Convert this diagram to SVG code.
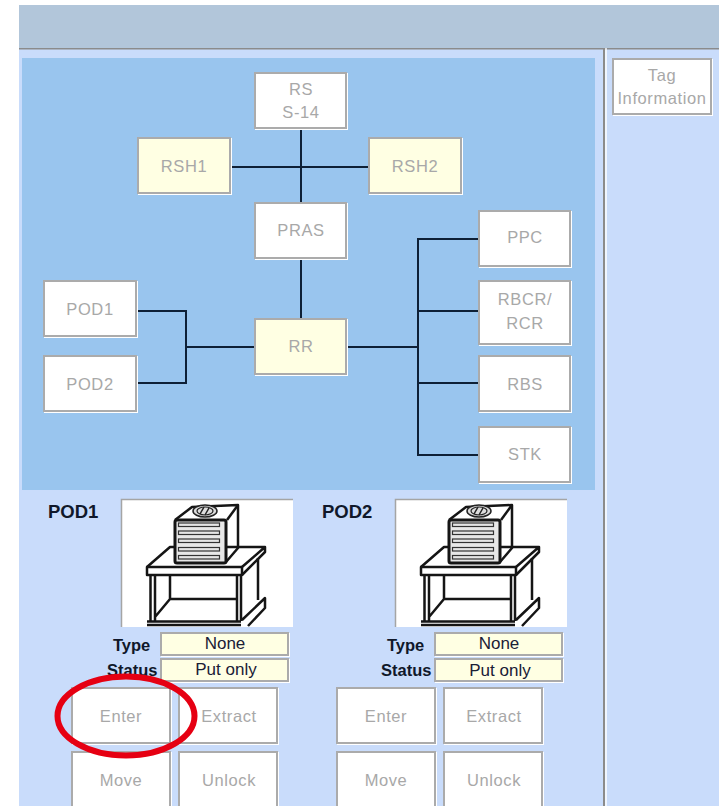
<svg xmlns="http://www.w3.org/2000/svg" width="724" height="806" viewBox="0 0 724 806">
<style>
.n{fill:#fff;stroke:#ababab;stroke-width:2;filter:drop-shadow(1px 1px 0 #fff)}
.y{fill:#ffffe3;stroke:#ababab;stroke-width:2;filter:drop-shadow(1px 1px 0 #fff)}
.t{font-family:"Liberation Sans",Arial,sans-serif;font-size:16.5px;letter-spacing:.6px;fill:#a8a8a8;text-anchor:middle}
.b{font-family:"Liberation Sans",Arial,sans-serif;font-weight:bold;font-size:16.5px;fill:#10182a}
.bb{font-family:"Liberation Sans",Arial,sans-serif;font-weight:bold;font-size:18.500px;fill:#10182a}
.v{font-family:"Liberation Sans",Arial,sans-serif;font-size:17px;fill:#1a2036;text-anchor:middle}
.c{fill:none;stroke:#0e2036;stroke-width:2}
.k{fill:none;stroke:#151515;stroke-width:2.500;stroke-linejoin:round}
.s{fill:#e6e6e6;stroke:#333;stroke-width:1.200}
</style>
<defs>
<g id="pod">
<rect x="121" y="499" width="172" height="128" fill="#fff"/>
<path d="M121.500 627V499.500H293" fill="none" stroke="#a5a5a5" stroke-width="1.500"/>
<path class="k" d="M147 567L170 547H265V552L242 575M265 547L242 567"/>
<rect class="k" x="147" y="567" width="95" height="8"/>
<path class="k" d="M150.500 575V621M155 575V621M237 575V621M241 575V621M170 575V599H237M155 617L170 599M258 558V600M147 621.500H241M147 625H241M242 620L265 598V608L248 626"/>
<path class="k" d="M175 520L192 507L238 505V548L226 562" fill="#fff"/>
<path class="k" d="M227 520L238 505"/>
<rect x="175" y="520" width="51" height="43" rx="2" fill="#e8e8e8" stroke="#151515" stroke-width="3"/>
<rect class="s" x="178.500" y="523" width="41" height="3.500"/>
<rect class="s" x="178.500" y="531" width="41" height="3.500"/>
<rect class="s" x="178.500" y="539" width="41" height="3.500"/>
<rect class="s" x="178.500" y="547.500" width="41" height="3.500"/>
<rect class="s" x="178.500" y="555.500" width="41" height="3.500"/>
<ellipse cx="205" cy="511" rx="12" ry="6" fill="#ddd" stroke="#222" stroke-width="1.500"/>
<ellipse cx="205" cy="511" rx="8" ry="4" fill="none" stroke="#222" stroke-width="1.200"/>
<path d="M200 514L204 507M205 515L209 508" stroke="#222" stroke-width="1.500"/>
</g>
</defs>
<rect width="724" height="806" fill="#fff"/>
<rect x="19" y="5" width="700" height="43" fill="#b2c6da"/>
<rect x="19" y="48" width="700" height="758" fill="#c9dcfb"/>
<rect x="19" y="48" width="700" height="1.500" fill="#8b8b8b"/>
<rect x="603" y="48" width="2" height="758" fill="#8b8b8b"/>
<rect x="605" y="48" width="2" height="758" fill="#fff" opacity=".7"/>
<rect x="22" y="58" width="573" height="432" fill="#99c5ee"/>
<g id="connectors" class="c">
<path class="c" d="M301 129V203M231 167H369M301 259V319"/>
<path class="c" d="M137 311H186V383H137M186 347H255"/>
<path class="c" d="M347 347H418M479 239H418V455H479M418 311H479M418 383H479"/>
</g>
<g id="rs"><rect class="n" x="255" y="73" width="91" height="55"/><text class="t" x="301" y="95">RS</text><text class="t" x="301" y="118">S-14</text></g>
<g id="rsh1"><rect class="y" x="138" y="138" width="92" height="55"/><text class="t" x="184" y="172">RSH1</text></g>
<g id="rsh2"><rect class="y" x="369" y="138" width="92" height="55"/><text class="t" x="415" y="172">RSH2</text></g>
<g id="pras"><rect class="n" x="255" y="203" width="91" height="55"/><text class="t" x="301" y="236">PRAS</text></g>
<g id="ppc"><rect class="n" x="479" y="211" width="91" height="55"/><text class="t" x="525" y="243">PPC</text></g>
<g id="rbcr"><rect class="n" x="479" y="281" width="91" height="63"/><text class="t" x="525" y="305">RBCR/</text><text class="t" x="525" y="329">RCR</text></g>
<g id="rbs"><rect class="n" x="479" y="356" width="91" height="55"/><text class="t" x="525" y="390">RBS</text></g>
<g id="stk"><rect class="n" x="479" y="427" width="91" height="55"/><text class="t" x="525" y="460">STK</text></g>
<g id="pod1"><rect class="n" x="44" y="281" width="92" height="55"/><text class="t" x="90" y="315">POD1</text></g>
<g id="pod2"><rect class="n" x="44" y="356" width="92" height="55"/><text class="t" x="90" y="390">POD2</text></g>
<g id="rr"><rect class="y" x="255" y="319" width="91" height="55"/><text class="t" x="301" y="352">RR</text></g>
<g id="tag"><rect class="n" x="613" y="59" width="98" height="55"/><text class="t" x="662" y="81">Tag</text><text class="t" x="662" y="104">Information</text></g>
<g id="pod1-panel">
<text class="bb" x="48" y="518">POD1</text>
<use href="#pod"/>
<text class="b" x="113" y="651">Type</text>
<rect class="y" x="161" y="633" width="127" height="22" stroke-width="1.500"/>
<text class="v" x="225" y="649">None</text>
<text class="b" x="107" y="676">Status</text>
<rect class="y" x="161" y="659" width="127" height="22" stroke-width="1.500"/>
<text class="v" x="226" y="675">Put only</text>
</g>
<g id="pod2-panel">
<text class="bb" x="322" y="518">POD2</text>
<use href="#pod" x="274"/>
<text class="b" x="387" y="651">Type</text>
<rect class="y" x="435" y="633" width="127" height="22" stroke-width="1.500"/>
<text class="v" x="499" y="649">None</text>
<text class="b" x="381" y="676">Status</text>
<rect class="y" x="435" y="659" width="127" height="22" stroke-width="1.500"/>
<text class="v" x="500" y="676">Put only</text>
</g>
<g id="btn-enter1"><rect class="n" x="72" y="688" width="98" height="55"/><text class="t" x="121" y="722">Enter</text></g>
<g id="btn-extract1"><rect class="n" x="179" y="688" width="98" height="55"/><text class="t" x="229" y="722">Extract</text></g>
<g id="btn-move1"><rect class="n" x="72" y="752" width="98" height="60"/><text class="t" x="121" y="786">Move</text></g>
<g id="btn-unlock1"><rect class="n" x="179" y="752" width="98" height="60"/><text class="t" x="229" y="786">Unlock</text></g>
<g id="btn-enter2"><rect class="n" x="337" y="688" width="98" height="55"/><text class="t" x="386" y="722">Enter</text></g>
<g id="btn-extract2"><rect class="n" x="444" y="688" width="98" height="55"/><text class="t" x="494" y="722">Extract</text></g>
<g id="btn-move2"><rect class="n" x="337" y="752" width="98" height="60"/><text class="t" x="386" y="786">Move</text></g>
<g id="btn-unlock2"><rect class="n" x="444" y="752" width="98" height="60"/><text class="t" x="494" y="786">Unlock</text></g>
<ellipse id="highlight" cx="126" cy="716" rx="68.500" ry="39.500" fill="none" stroke="#e60012" stroke-width="6"/>
</svg>
